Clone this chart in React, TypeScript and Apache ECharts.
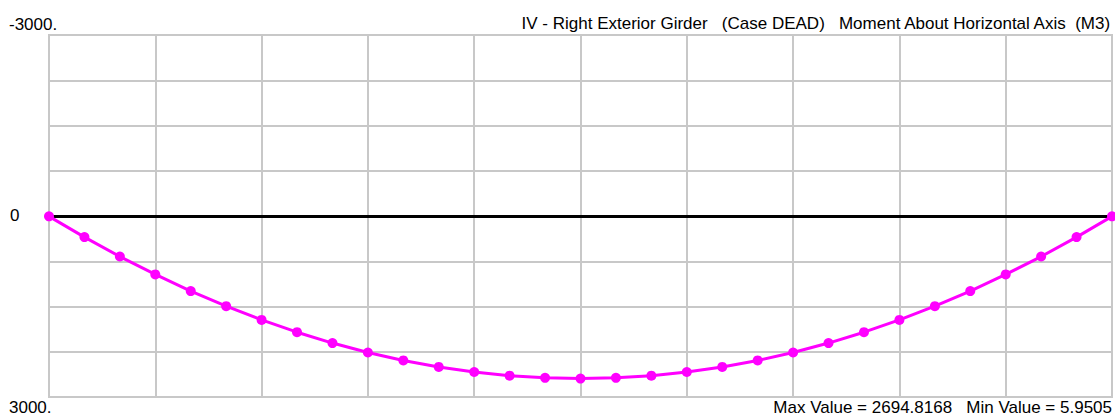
import React, { useEffect, useRef } from "react";
import * as echarts from "echarts";

const stations = [0, 1, 2, 3, 4, 5, 6, 7, 8, 9, 10, 11, 12, 13, 14, 15, 16, 17, 18, 19, 20, 21, 22, 23, 24, 25, 26, 27, 28, 29, 30];
const moments = [6, 350, 672, 968, 1244, 1495, 1722, 1926, 2106, 2262, 2394, 2502, 2586, 2646, 2682, 2695, 2682, 2646, 2586, 2502, 2394, 2262, 2106, 1926, 1722, 1495, 1244, 968, 672, 350, 6];
const yTickLabels = ["-3000.", "0", "3000."];
const titleText = "IV - Right Exterior Girder   (Case DEAD)   Moment About Horizontal Axis  (M3)";
const footerText = "Max Value = 2694.8168   Min Value = 5.9505";

const FONT = "'Liberation Sans', Arial, sans-serif";

export default function App() {
  const ref = useRef<HTMLDivElement>(null);
  useEffect(() => {
    if (!ref.current) return;
    const chart = echarts.init(ref.current, null, { renderer: "svg" });
    const st = (s: string) => ({ text: s, fill: "#000", font: `17px ${FONT}`, lineHeight: 16 });
    chart.setOption({
      animation: false,
      backgroundColor: "#fff",
      grid: { left: 49, right: 3, top: 35, bottom: 19, show: true, borderColor: "#c8c8c8", borderWidth: 2 },
      xAxis: {
        type: "value",
        min: 0,
        max: 30,
        interval: 3,
        axisLine: { show: true, onZero: true, lineStyle: { color: "#000", width: 3 } },
        axisTick: { show: false },
        axisLabel: { show: false },
        splitLine: { show: true, lineStyle: { color: "#c8c8c8", width: 2 } },
      },
      yAxis: {
        type: "value",
        inverse: true,
        min: -3000,
        max: 3000,
        interval: 750,
        axisLine: { show: false },
        axisTick: { show: false },
        axisLabel: { show: false },
        splitLine: { show: true, lineStyle: { color: "#c8c8c8", width: 2 } },
      },
      series: [
        {
          type: "line",
          data: stations.map((s, i) => [s, moments[i]]),
          lineStyle: { color: "#ff00ff", width: 3 },
          itemStyle: { color: "#ff00ff" },
          symbol: "circle",
          symbolSize: 10,
          z: 5,
        },
      ],
      graphic: [
        { type: "text", left: 9, top: 16, style: st(yTickLabels[0]) },
        { type: "text", left: 10, top: 207, style: st(yTickLabels[1]) },
        { type: "text", left: 9, top: 399, style: st(yTickLabels[2]) },
        { type: "text", right: 3, top: 15, style: st(titleText) },
        { type: "text", right: 3, top: 399, style: st(footerText) },
      ],
    });
    return () => chart.dispose();
  }, []);
  return <div ref={ref} style={{ position: "fixed", left: 0, top: 0, width: 1115, height: 416 }} />;
}
